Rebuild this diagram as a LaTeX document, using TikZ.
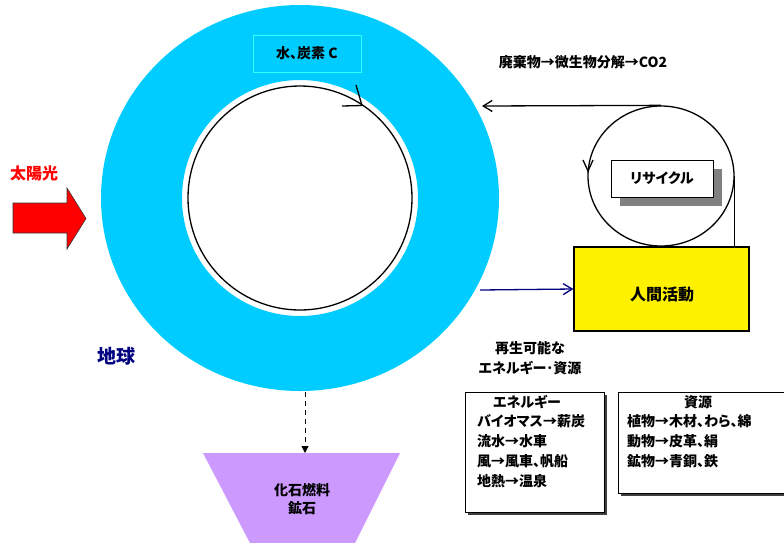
\documentclass[tikz,border=0pt]{standalone}
\usepackage{fontspec}
\usetikzlibrary{arrows.meta,shapes.geometric}
\newfontfamily\jp[CharacterWidth=AlternateProportional]{Noto Sans CJK JP}
\definecolor{ringcyan}{HTML}{00CCFF}
\definecolor{boxcyanedge}{HTML}{33FFFF}
\definecolor{lav}{HTML}{CC99FF}
\definecolor{navyc}{HTML}{000080}
\definecolor{shadowgray}{HTML}{808080}
\begin{document}
\begin{tikzpicture}[x=1pt,y=-1pt,
  font=\jp\bfseries\fontsize{14}{20}\selectfont,
  txt/.style={inner sep=0pt},
  barb/.style={-{Straight Barb[length=9pt,width=11pt]}, line width=1.3pt},
  plainbox/.style={draw, fill=white, line width=0.6pt, inner sep=0pt},
  fs16/.style={font=\jp\bfseries\fontsize{16}{20}\selectfont}]
\useasboundingbox (0,0) rectangle (784,542);
% earth ring
\fill[ringcyan, even odd rule] (300,198) ellipse [x radius=199pt, y radius=193pt]
  (300,198) circle [radius=118pt];
\node[draw, circle, minimum size=224pt, line width=1.3pt, inner sep=0pt] (earthin) at (300,198) {};
\draw[line width=1.3pt] (342,106) -- (362,105.5) -- (356,85);
\node[draw=boxcyanedge, fill=ringcyan, minimum width=108pt, minimum height=37pt, line width=0.8pt, inner sep=0pt] (water) at (307,53.5) {水、炭素 C};
% waste text
\node[txt] (waste) at (583,62) {廃棄物→微生物分解→CO2};
% recycle circle
\node[draw, ellipse, minimum width=146pt, minimum height=140pt, line width=1.3pt, inner sep=0pt] (recyc) at (661,176) {};
\draw[line width=1.3pt] (583,160) -- (588,171) -- (593,160);
\fill[shadowgray] (620,169) rectangle (722,206);
\node[plainbox, minimum width=102pt, minimum height=37pt] (rbox) at (662,178.5) {リサイクル};
% human activity
\node[draw, fill=yellow, minimum width=175pt, minimum height=84pt, line width=1.3pt, inner sep=0pt] (human) at (661.5,289) {};
\node[txt, fs16] (humantxt) at (662,294) {人間活動};
% connectors
\coordinate (retend) at (482,106);
\draw[barb] (recyc.north) -- (retend);
\draw[line width=1.3pt] (recyc.east) -- (recyc.east |- human.north);
\coordinate (navystart) at (480,290);
\draw[barb, navyc] (navystart) -- (human.west);
% sun
\node[txt, red, fs16] (sun) at (34,173) {太陽光};
\filldraw[fill=red, draw=black!80, line width=0.6pt] (13,203) -- (67,203) -- (67,188) -- (86,218.5) -- (67,249) -- (67,233) -- (13,233) -- cycle;
% earth label
\node[txt, navyc, font=\jp\bfseries\fontsize{19}{20}\selectfont] (earthlbl) at (116,356) {地球};
% renewable
\node[txt, align=center] (renew) at (530,358) {再生可能な\\エネルギー･資源};
% energy box
\fill[black!75] (467.5,394.5) rectangle (606.5,514.5);
\draw[fill=white, line width=0.6pt] (465,392) rectangle (604,512);
\node[txt] (etitle) at (527,402) {エネルギー};
\node[txt, anchor=west] (e1) at (477,421) {バイオマス→薪炭};
\node[txt, anchor=west] (e2) at (477,441) {流水→水車};
\node[txt, anchor=west] (e3) at (477,461) {風→風車、帆船};
\node[txt, anchor=west] (e4) at (477,481) {地熱→温泉};
% resource box
\fill[black!75] (620.5,394.5) rectangle (790,495.5);
\draw[fill=white, line width=0.6pt] (618,392) rectangle (790,493);
\node[txt] (rtitle) at (698,402) {資源};
\node[txt, anchor=west] (r1) at (627,421) {植物→木材、わら、綿};
\node[txt, anchor=west] (r2) at (627,441) {動物→皮革、絹};
\node[txt, anchor=west] (r3) at (627,461) {鉱物→青銅、鉄};
% fossil
\fill[lav] (203,453) -- (400,453) -- (354,545) -- (251,545) -- cycle;
\node[txt, align=center, font=\jp\bfseries\fontsize{14}{18}\selectfont] (fossil) at (302,499) {化石燃料\\鉱石};
\coordinate (earthbottom) at (305,392);
\coordinate (fossiltop) at (305,453);
\draw[dashed, dash pattern=on 5pt off 4pt, line width=1pt, -{Triangle[length=7pt,width=7pt]}] (earthbottom) -- (fossiltop);
\end{tikzpicture}
\end{document}
